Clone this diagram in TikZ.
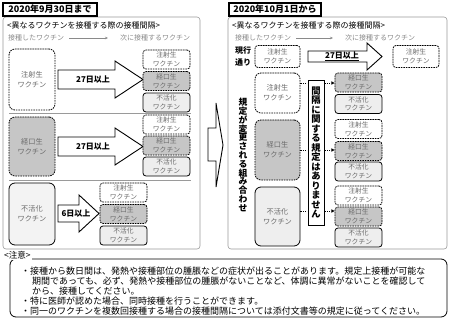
\documentclass[tikz,border=0pt]{standalone}
\usepackage{fontspec}
\setmainfont{Noto Sans CJK JP}
\usetikzlibrary{arrows.meta}
\definecolor{txtgray}{HTML}{6A6A6A}
\definecolor{oralfill}{HTML}{C6C6C6}
\definecolor{inactfill}{HTML}{EEEEEE}
\definecolor{panelline}{HTML}{9A9A9A}
\definecolor{lightgraytxt}{HTML}{8A8A8A}
\tikzset{
  vbox/.style={rounded corners=3pt, line width=0.8pt, minimum width=47pt, minimum height=19pt,
    inner sep=0pt, align=center, font=\fontsize{6.8}{8.6}\selectfont, text=txtgray},
  inj/.style={vbox, draw, dash pattern=on 1.6pt off 0.9pt, fill=white},
  oral/.style={vbox, draw, dash pattern=on 1.6pt off 0.9pt, fill=oralfill},
  inact/.style={vbox, draw, fill=inactfill},
  big/.style={rounded corners=6pt, minimum width=46pt, font=\fontsize{7.2}{10}\selectfont},
  panel/.style={draw=panelline, line width=0.6pt, rounded corners=3pt, minimum width=197pt, minimum height=232pt, inner sep=0pt},
  titlebox/.style={draw, line width=1.1pt, fill=white, inner sep=0pt, minimum height=13pt, font=\bfseries\fontsize{9}{10}\selectfont},
  heading/.style={anchor=west, inner sep=0pt, font=\fontsize{8}{9}\selectfont},
  graytxt/.style={anchor=west, inner sep=0pt, text=lightgraytxt, font=\fontsize{7}{8}\selectfont},
  grayarrow/.style={draw=lightgraytxt, line width=0.5pt, -{Stealth[length=3pt,width=2.5pt]}},
  blockarrow/.style={draw, fill=white, line width=0.9pt, line join=miter},
  arrowlabel/.style={inner sep=0pt, font=\bfseries\fontsize{8}{9}\selectfont},
  sep/.style={draw=panelline, line width=0.6pt},
  dotline/.style={line width=0.9pt, dash pattern=on 1.1pt off 1.3pt},
  dotarrow/.style={dotline, -{Triangle[length=3.2pt,width=3.2pt]}},
  vtext/.style={inner sep=0pt, align=center, font=\bfseries\fontsize{8.8}{8.8}\selectfont},
  note/.style={anchor=west, inner sep=0pt, font=\fontsize{9}{10}\selectfont}
}
\begin{document}
\begin{tikzpicture}[x=1pt,y=-1pt]
\useasboundingbox (0,0) rectangle (450,319);
% ---------- left panel ----------
\node[panel] (p1) at (101.5,133) {};
\node[titlebox, minimum width=94pt] (t1) at (50,9.5) {2020年9月30日まで};
\node[heading] (h1) at (7,25.5) {<異なるワクチンを接種する際の接種間隔>};
\node[graytxt] (g1) at (8,38) {接種したワクチン};
\node[graytxt] (g2) at (120,38) {次に接種するワクチン};
\draw[grayarrow] ([xshift=5pt]g1.east) -- ([xshift=-12pt]g2.west);
% row 1
\node[inj, big, minimum height=61pt] (a1) at (32,79.5) {注射生\\ワクチン};
\draw[blockarrow] (58,70) -- (115,70) -- (115,61) -- (143,79.5) -- (115,98) -- (115,89) -- (58,89) -- cycle;
\node[arrowlabel] (l1) at (93,79.5) {27日以上};
\node[inj] (e11) at (166.5,59.5) {注射生\\ワクチン};
\node[oral] (e12) at (166.5,81) {経口生\\ワクチン};
\node[inact] (e13) at (166.5,102.5) {不活化\\ワクチン};
\draw[sep] (9,113.5) -- (191,113.5);
% row 2
\node[oral, big, minimum height=59pt] (a2) at (32,146.5) {経口生\\ワクチン};
\draw[blockarrow] (58,137) -- (115,137) -- (115,128) -- (143,146.5) -- (115,165) -- (115,156) -- (58,156) -- cycle;
\node[arrowlabel] (l2) at (93,146.5) {27日以上};
\node[inj] (e21) at (166.5,124.5) {注射生\\ワクチン};
\node[oral] (e22) at (166.5,145.5) {経口生\\ワクチン};
\node[inact] (e23) at (166.5,166.5) {不活化\\ワクチン};
\draw[sep] (9,180) -- (191,180);
% row 3
\node[inact, big, minimum height=62pt, fill=inactfill!70] (a3) at (32,214) {不活化\\ワクチン};
\draw[blockarrow] (58,205) -- (79,205) -- (79,195) -- (99,213.5) -- (79,232) -- (79,222) -- (58,222) -- cycle;
\node[arrowlabel] (l3) at (76,213.5) {6日以上};
\node[inj] (e31) at (123.5,192.5) {注射生\\ワクチン};
\node[oral] (e32) at (123.5,214) {経口生\\ワクチン};
\node[inact] (e33) at (123.5,235.5) {不活化\\ワクチン};
% ---------- middle arrow ----------
\draw[blockarrow] (208,128) -- (216,128) -- (216,103) -- (223,145) -- (216,187) -- (216,161) -- (208,161) -- cycle;
% ---------- right panel ----------
\node[panel, minimum width=219pt] (p2) at (337.5,133) {};
\node[titlebox, minimum width=92pt] (t2) at (275,9.5) {2020年10月1日から};
\node[heading] (h2) at (232,25.5) {<異なるワクチンを接種する際の接種間隔>};
\node[graytxt] (g3) at (235,38) {接種したワクチン};
\node[graytxt] (g4) at (345,38) {次に接種するワクチン};
\draw[grayarrow] ([xshift=5pt]g3.east) -- ([xshift=-12pt]g4.west);
\node[inner sep=0pt, align=center, font=\bfseries\fontsize{8}{12}\selectfont] (cur) at (243,56.5) {現行\\通り};
\node[inj, minimum width=45pt, minimum height=22pt] (c0) at (277.5,56.5) {注射生\\ワクチン};
\draw[blockarrow] (308,51) -- (367,51) -- (367,43) -- (382,56.5) -- (367,70) -- (367,62) -- (308,62) -- cycle;
\node[arrowlabel] (l4) at (342,55.5) {27日以上};
\draw[line width=0.8pt] ([yshift=-1.2pt]l4.south west) -- ([yshift=-1.2pt]l4.south east);
\node[inj, minimum width=46pt, minimum height=22pt] (c1) at (416,56.5) {注射生\\ワクチン};
\node[inj, big, minimum width=45pt, minimum height=40pt] (b1) at (277.5,93) {注射生\\ワクチン};
\node[oral, big, minimum width=45pt, minimum height=60pt] (b2) at (277.5,150) {経口生\\ワクチン};
\node[inact, big, minimum width=45pt, minimum height=59pt] (b3) at (277.5,216.5) {不活化\\ワクチン};
\node[vtext] (vt) at (243,155) {規\\定\\が\\変\\更\\さ\\れ\\る\\組\\み\\合\\わ\\せ};
\node[draw, fill=white, line width=0.8pt, minimum width=16pt, minimum height=145pt, inner sep=0pt, align=center,
      font=\bfseries\fontsize{9.3}{9.5}\selectfont] (v) at (316,152.5) {間\\隔\\に\\関\\す\\る\\規\\定\\は\\あ\\り\\ま\\せ\\ん};
\node[oral] (s11) at (358.5,82.5) {経口生\\ワクチン};
\node[inact] (s12) at (358.5,104) {不活化\\ワクチン};
\node[inj] (s21) at (358.5,129) {注射生\\ワクチン};
\node[oral] (s22) at (358.5,151) {経口生\\ワクチン};
\node[inact] (s23) at (358.5,171.5) {不活化\\ワクチン};
\node[inj] (s31) at (358.5,195.5) {注射生\\ワクチン};
\node[oral] (s32) at (358.5,216.5) {経口生\\ワクチン};
\node[inact] (s33) at (358.5,237.5) {不活化\\ワクチン};
\coordinate (y1) at (0,83);
\coordinate (y2) at (0,150);
\coordinate (y3) at (0,211);
\draw[dotline] (b1.east |- y1) -- (v.west |- y1);
\draw[dotarrow] (v.east |- y1) -- (s11.west |- y1);
\draw[dotline] (b2.east |- y2) -- (v.west |- y2);
\draw[dotarrow] (v.east |- y2) -- (s22.west |- y2);
\draw[dotline] (b3.east |- y3) -- (v.west |- y3);
\draw[dotarrow] (v.east |- y3) -- (s32.west |- y3);
% ---------- notes ----------
\node[draw, line width=0.8pt, rounded corners=6pt, minimum width=437pt, minimum height=58pt, inner sep=0pt] (nb) at (228.5,288) {};
\node[fill=white, inner sep=1pt, anchor=west, font=\fontsize{8.5}{9}\selectfont] (nl) at (3,255) {<注意>};
\node[note] (n1) at (21,271) {・接種から数日間は、発熱や接種部位の腫脹などの症状が出ることがあります。規定上接種が可能な};
\node[note] (n2) at (32,281) {期間であっても、必ず、発熱や接種部位の腫脹がないことなど、体調に異常がないことを確認して};
\node[note] (n3) at (32,291) {から、接種してください。};
\node[note] (n4) at (21,301) {・特に医師が認めた場合、同時接種を行うことができます。};
\node[note] (n5) at (21,311) {・同一のワクチンを複数回接種する場合の接種間隔については添付文書等の規定に従ってください。};
\end{tikzpicture}
\end{document}
